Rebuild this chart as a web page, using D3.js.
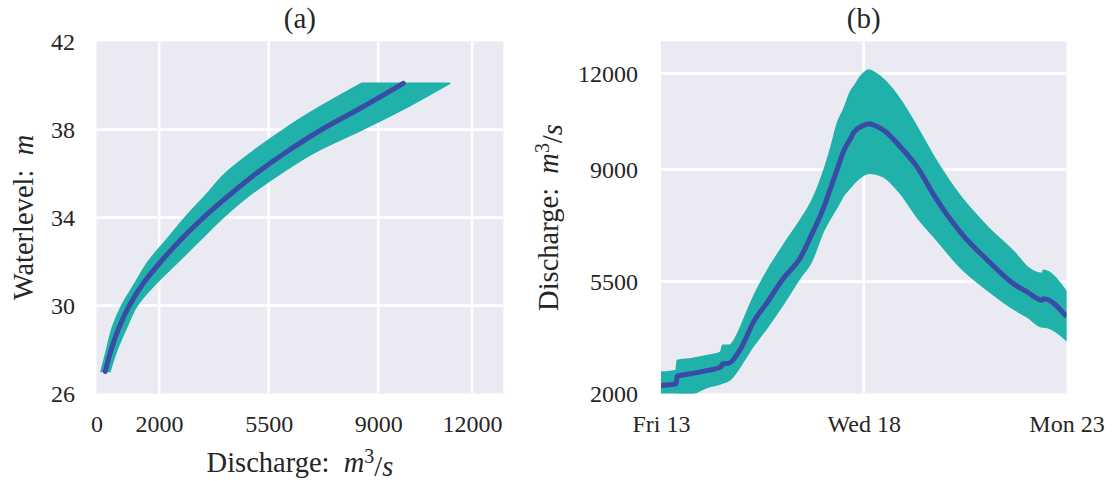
<!DOCTYPE html>
<html><head><meta charset="utf-8">
<script src="https://cdn.jsdelivr.net/npm/d3@7"></script>
<style>
body{margin:0;background:#fff;}
text{font-family:"Liberation Serif",serif;fill:#262626;}
</style>
</head><body>
<svg id="chart" width="1114" height="481"></svg>
<script>
// ---------- Panel (a): rating curve ----------
const waterLevels   = [27, 28, 29, 30, 31, 32, 33, 34, 35, 36, 37, 38, 39, 40.1];
const ratingMean    = [280, 470, 720, 1050, 1490, 2060, 2700, 3420, 4230, 5100, 6090, 7200, 8470, 9800];
const ratingLow     = [144, 326, 505, 805, 1225, 1656, 2243, 2830, 3480, 4110, 4990, 5980, 7100, 8470];
const ratingHigh    = [431, 661, 964, 1300, 1900, 2620, 3330, 4050, 4880, 5880, 7020, 8500, 9900, 11290];
const ticksA_x = [0, 2000, 5500, 9000, 12000];
const ticksA_y = [26, 30, 34, 38, 42];

// ---------- Panel (b): discharge hydrograph ----------
const timeStamps = ["2017-01-13T00:00","2017-01-13T08:53","2017-01-13T09:36","2017-01-13T17:45",
  "2017-01-14T03:36","2017-01-14T11:17","2017-01-14T12:29","2017-01-14T16:19","2017-01-14T21:22",
  "2017-01-15T01:12","2017-01-15T06:14","2017-01-15T15:07","2017-01-16T00:00","2017-01-16T10:48",
  "2017-01-16T16:34","2017-01-17T00:29","2017-01-17T04:34","2017-01-17T08:24","2017-01-17T12:14",
  "2017-01-17T16:19","2017-01-17T18:14","2017-01-17T22:48","2017-01-18T03:07","2017-01-18T07:12",
  "2017-01-18T12:00","2017-01-18T21:50","2017-01-19T07:41","2017-01-19T17:31","2017-01-20T09:22",
  "2017-01-21T01:12","2017-01-21T17:46","2017-01-22T00:43","2017-01-22T09:36","2017-01-22T10:19",
  "2017-01-23T00:00"];
const flowMean  = [2250,2304,2540,2618,2721,2824,2930,2950,3245,3608,4185,4862,5570,6273,6900,7841,8450,9020,9594,9980,10167,10350,10428,10360,10219,9697,9072,8200,7030,6169,5386,5176,4915,4960,4400];
const flowUpper = [2668,2722,3034,3088,3191,3295,3505,3505,3871,4342,4969,5856,6600,7450,7947,8991,9700,10450,10900,11450,11600,11950,12109,12000,11800,11170,10320,9400,8154,7213,6379,5959,5752,5850,5176];
const flowLower = [1900,1950,1980,1990,2197,2304,2330,2407,2721,3034,3451,4079,4760,5646,6066,7110,7500,7840,8200,8450,8574,8780,8880,8860,8762,8240,7500,6900,5930,5229,4602,4392,4078,4078,3661];
const ticksB_x = ["2017-01-13","2017-01-18","2017-01-23"];
const ticksB_y = [2000, 5500, 9000, 12000];

const BAND = "#20b2aa", LINE = "#3a4ba6", BG = "#eaeaf2";
const svg = d3.select("#chart");

function mathLabel(sel){
  sel.append("tspan").text("Discharge:\u2002");
  sel.append("tspan").attr("font-style","italic").text("m");
  sel.append("tspan").attr("font-size","0.7em").attr("dy","-0.45em").text("3");
  sel.append("tspan").attr("dy","0.45em").text("/");
  sel.append("tspan").attr("font-style","italic").text("s");
}

// ===== Panel (a) =====
{
  const L=96.5, R=503.4, T=41.5, B=393.5;
  const x = d3.scaleLinear().domain([0,13000]).range([L,R]);
  const y = d3.scaleLinear().domain([26,42]).range([B,T]);
  const g = svg.append("g");
  g.append("rect").attr("x",L).attr("y",T).attr("width",R-L).attr("height",B-T).attr("fill",BG);
  g.selectAll(".gx").data(ticksA_x.filter(d=>d>0)).join("line")
    .attr("x1",d=>x(d)).attr("x2",d=>x(d)).attr("y1",T).attr("y2",B)
    .attr("stroke","#fff").attr("stroke-width",2.5);
  g.selectAll(".gy").data(ticksA_y.filter(d=>d>26&&d<42)).join("line")
    .attr("y1",d=>y(d)).attr("y2",d=>y(d)).attr("x1",L).attr("x2",R)
    .attr("stroke","#fff").attr("stroke-width",2.5);
  const rows = waterLevels.map((h,i)=>({h, m:ratingMean[i], lo:ratingLow[i], hi:ratingHigh[i]}));
  const area = d3.area().y(d=>y(d.h)).x0(d=>x(d.lo)).x1(d=>x(d.hi)).curve(d3.curveMonotoneY);
  g.append("path").datum(rows).attr("d",area).attr("fill",BAND).attr("stroke",BAND).attr("stroke-width",1.5).attr("stroke-linejoin","round");
  const line = d3.line().y(d=>y(d.h)).x(d=>x(d.m)).curve(d3.curveMonotoneY);
  g.append("path").datum(rows).attr("d",line).attr("fill","none").attr("stroke",LINE)
    .attr("stroke-width",5).attr("stroke-linecap","round").attr("stroke-linejoin","round");
  const ax = g.append("g").attr("transform",`translate(0,${B})`)
    .call(d3.axisBottom(x).tickValues(ticksA_x).tickFormat(d3.format("d")).tickSize(0).tickPadding(21.5));
  ax.select(".domain").remove();
  ax.selectAll("text").attr("font-size",24).attr("font-family","Liberation Serif").attr("fill","#262626");
  const ay = g.append("g").attr("transform",`translate(${L},0)`)
    .call(d3.axisLeft(y).tickValues(ticksA_y).tickSize(0).tickPadding(21.5));
  ay.select(".domain").remove();
  ay.selectAll("text").attr("font-size",24).attr("font-family","Liberation Serif").attr("fill","#262626");
  g.append("text").attr("x",(L+R)/2).attr("y",28).attr("text-anchor","middle").attr("font-size",29).text("(a)");
  g.append("text").attr("x",(L+R)/2).attr("y",472).attr("text-anchor","middle").attr("font-size",28.5).call(mathLabel);
  g.append("text").attr("transform",`translate(33,${(T+B)/2}) rotate(-90)`).attr("text-anchor","middle").attr("font-size",28.5)
    .call(s=>{s.append("tspan").text("Waterlevel:\u2002"); s.append("tspan").attr("font-style","italic").text("m");});
}

// ===== Panel (b) =====
{
  const L=661, R=1066.5, T=41.5, B=393.5;
  const parse = d3.utcParse("%Y-%m-%dT%H:%M");
  const parseDay = d3.utcParse("%Y-%m-%d");
  const x = d3.scaleUtc().domain([parseDay("2017-01-13"), parseDay("2017-01-23")]).range([L,R]);
  const y = d3.scaleLinear().domain([2000,13000]).range([B,T]);
  const g = svg.append("g");
  g.append("rect").attr("x",L).attr("y",T).attr("width",R-L).attr("height",B-T).attr("fill",BG);
  g.append("clipPath").attr("id","clipB").append("rect").attr("x",L).attr("y",T).attr("width",R-L).attr("height",B-T);
  const tDates = ticksB_x.map(parseDay);
  g.selectAll(".gx").data(tDates.slice(1,-1)).join("line")
    .attr("x1",d=>x(d)).attr("x2",d=>x(d)).attr("y1",T).attr("y2",B)
    .attr("stroke","#fff").attr("stroke-width",2.5);
  g.selectAll(".gy").data(ticksB_y.filter(d=>d>2000)).join("line")
    .attr("y1",d=>y(d)).attr("y2",d=>y(d)).attr("x1",L).attr("x2",R)
    .attr("stroke","#fff").attr("stroke-width",2.5);
  const rows = timeStamps.map((t,i)=>({t:parse(t), m:flowMean[i], lo:flowLower[i], hi:flowUpper[i]}));
  const plot = g.append("g").attr("clip-path","url(#clipB)");
  const area = d3.area().x(d=>x(d.t)).y0(d=>y(d.lo)).y1(d=>y(d.hi)).curve(d3.curveMonotoneX);
  plot.append("path").datum(rows).attr("d",area).attr("fill",BAND).attr("stroke",BAND).attr("stroke-width",1.5);
  const line = d3.line().x(d=>x(d.t)).y(d=>y(d.m)).curve(d3.curveMonotoneX);
  plot.append("path").datum(rows).attr("d",line).attr("fill","none").attr("stroke",LINE)
    .attr("stroke-width",5).attr("stroke-linejoin","round");
  const ax = g.append("g").attr("transform",`translate(0,${B})`)
    .call(d3.axisBottom(x).tickValues(tDates).tickFormat(d3.utcFormat("%a %d")).tickSize(0).tickPadding(21.5));
  ax.select(".domain").remove();
  ax.selectAll("text").attr("font-size",24).attr("font-family","Liberation Serif").attr("fill","#262626");
  const ay = g.append("g").attr("transform",`translate(${L},0)`)
    .call(d3.axisLeft(y).tickValues(ticksB_y).tickFormat(d3.format("d")).tickSize(0).tickPadding(23));
  ay.select(".domain").remove();
  ay.selectAll("text").attr("font-size",24).attr("font-family","Liberation Serif").attr("fill","#262626");
  g.append("text").attr("x",(L+R)/2).attr("y",28).attr("text-anchor","middle").attr("font-size",29).text("(b)");
  g.append("text").attr("transform",`translate(558,${(T+B)/2}) rotate(-90)`).attr("text-anchor","middle").attr("font-size",28.5).call(mathLabel);
}
</script>
</body></html>
